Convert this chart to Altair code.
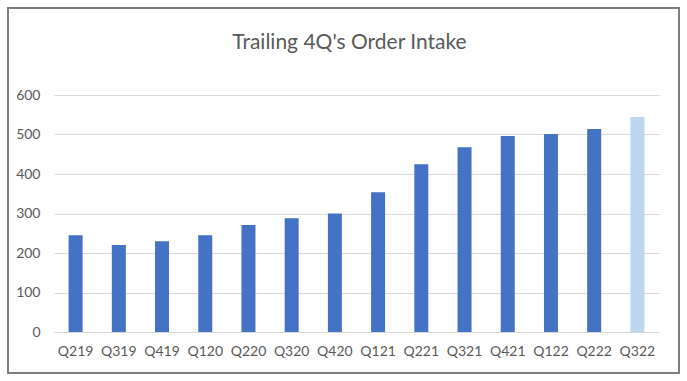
import altair as alt
import pandas as pd

quarters = ["Q219", "Q319", "Q419", "Q120", "Q220", "Q320", "Q420",
            "Q121", "Q221", "Q321", "Q421", "Q122", "Q222", "Q322"]
values = [245, 220, 230, 245, 271, 288, 300, 354, 425, 468, 496, 501, 514, 544]
kinds = ["actual"] * 13 + ["forecast"]

df = pd.DataFrame({"quarter": quarters, "value": values, "kind": kinds})

FONT = "Lato"
TXT = "#595959"

bars = alt.Chart(df).mark_bar(size=14).encode(
    x=alt.X("quarter:N", sort=quarters, title=None,
            axis=alt.Axis(labelAngle=0, ticks=False, domain=True, domainColor="#D9D9D9",
                          labelPadding=12, labelFontSize=14, labelColor=TXT, labelFont=FONT)),
    y=alt.Y("value:Q", title=None, scale=alt.Scale(domain=[0, 600]),
            axis=alt.Axis(values=[0, 100, 200, 300, 400, 500, 600], ticks=False, domain=False,
                          gridColor="#D9D9D9", labelPadding=14, labelFontSize=14,
                          labelColor=TXT, labelFont=FONT)),
    color=alt.Color("kind:N", legend=None,
                    scale=alt.Scale(domain=["actual", "forecast"], range=["#4472C4", "#BDD7EE"])),
)

border = alt.Chart(df).mark_rect(fill=None, stroke="#7F7F7F", strokeWidth=1.5).encode(
    x=alt.value(-46), x2=alt.value(625), y=alt.value(-87), y2=alt.value(278)
)

chart = alt.layer(border, bars).properties(
    width=605, height=237,
    title=alt.TitleParams("Trailing 4Q's Order Intake", font=FONT, fontSize=21,
                          fontWeight="normal", color=TXT, anchor="middle", offset=-46, dx=-7),
    padding={"left": 54, "top": 95, "right": 28, "bottom": 49},
    autosize=alt.AutoSizeParams(type="none"),
).configure_view(stroke=None)

chart.save("out.html", embed_options={"renderer": "svg", "actions": False})
